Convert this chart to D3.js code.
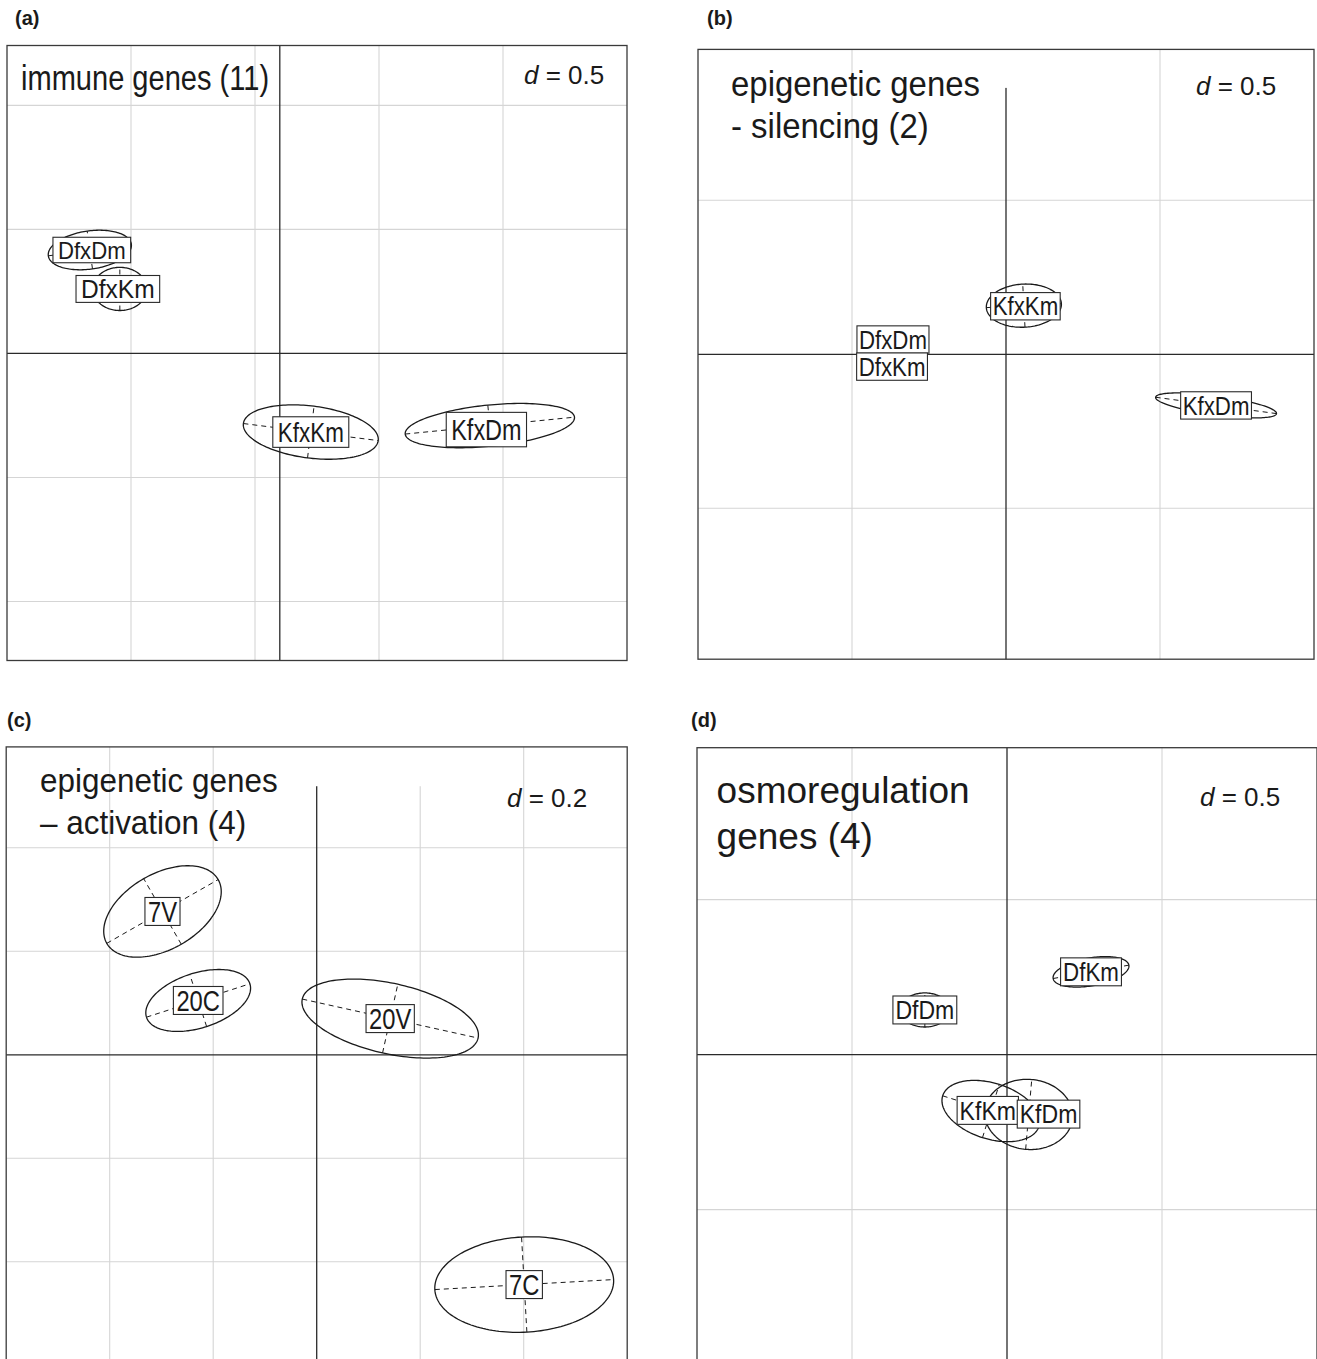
<!DOCTYPE html>
<html>
<head>
<meta charset="utf-8">
<script src="https://cdn.jsdelivr.net/npm/d3@7"></script>
<style>
  body { margin: 0; background: #fff; }
  svg { display: block; }
</style>
</head>
<body>
<svg id="fig" width="1317" height="1359"></svg>
<script>
// ---------- (a) immune genes ----------
const immuneTitle = ["immune genes (11)"];
const immuneD = "0.5";
const immuneGroups = ["DfxDm", "DfxKm", "KfxKm", "KfxDm"];
const immuneX = [-0.766, -0.645, 0.125, 0.847];
const immuneY = [0.417, 0.260, -0.317, -0.291];
const immuneMajor = [0.169, 0.109, 0.274, 0.343];
const immuneMinor = [0.077, 0.087, 0.105, 0.083];
const immuneAngle = [8, 0, -7.2, 5.7];
const immuneLabelX = [-0.758, -0.653, 0.125, 0.833];
const immuneLabelY = [0.417, 0.260, -0.317, -0.307];
const immuneGridX = [-0.6, -0.1, 0.4, 0.9];
const immuneGridY = [-1.0, -0.5, 0.5, 1.0];

// ---------- (b) epigenetic genes, silencing ----------
const silencingTitle = ["epigenetic genes", "- silencing (2)"];
const silencingD = "0.5";
const silencingGroups = ["DfxDm", "DfxKm", "KfxKm", "KfxDm"];
const silencingX = [-0.367, -0.370, 0.058, 0.682];
const silencingY = [0.048, -0.040, 0.158, -0.166];
const silencingMajor = [0.030, 0.030, 0.122, 0.198];
const silencingMinor = [0.015, 0.015, 0.070, 0.031];
const silencingAngle = [0, 0, 3, -7.7];
const silencingLabelX = [-0.367, -0.370, 0.063, 0.682];
const silencingLabelY = [0.048, -0.040, 0.156, -0.166];
const silencingGridX = [-0.5, 0.5];
const silencingGridY = [-0.5, 0.5];

// ---------- (c) epigenetic genes, activation ----------
const activationTitle = ["epigenetic genes", "\u2013 activation (4)"];
const activationD = "0.2";
const activationGroups = ["7V", "20C", "20V", "7C"];
const activationX = [-0.298, -0.229, 0.142, 0.401];
const activationY = [0.277, 0.105, 0.070, -0.444];
const activationMajor = [0.124, 0.105, 0.174, 0.173];
const activationMinor = [0.073, 0.053, 0.068, 0.092];
const activationAngle = [29.8, 17.9, -12.5, 3.2];
const activationLabelX = [-0.298, -0.229, 0.142, 0.401];
const activationLabelY = [0.277, 0.105, 0.070, -0.444];
const activationGridX = [-0.4, -0.2, 0.2, 0.4];
const activationGridY = [-0.4, -0.2, 0.2, 0.4];

// ---------- (d) osmoregulation genes ----------
const osmoTitle = ["osmoregulation", "genes (4)"];
const osmoD = "0.5";
const osmoGroups = ["DfDm", "DfKm", "KfKm", "KfDm"];
const osmoX = [-0.265, 0.271, -0.052, 0.070];
const osmoY = [0.144, 0.267, -0.182, -0.193];
const osmoMajor = [0.080, 0.124, 0.163, 0.142];
const osmoMinor = [0.055, 0.045, 0.090, 0.113];
const osmoAngle = [0, 10, -17.5, -5];
const osmoLabelX = [-0.265, 0.271, -0.062, 0.134];
const osmoLabelY = [0.144, 0.267, -0.180, -0.192];
const osmoGridX = [-0.5, 0.5];
const osmoGridY = [-0.5, 0.5];

// relative label font size and width within each panel
const immuneLabelSize = [0.96, 1.0, 1.1, 1.2];
const immuneLabelWidth = [1.1, 1.17, 0.97, 0.93];
const silencingLabelSize = [1, 1, 1, 1];
const silencingLabelWidth = [1, 1, 1, 1];
const activationLabelSize = [1, 1, 1, 1];
const activationLabelWidth = [1, 1, 1, 1];
const osmoLabelSize = [1, 1, 1, 1];
const osmoLabelWidth = [1, 0.97, 1, 1];

const FONT = "'Liberation Sans', Arial, Helvetica, sans-serif";

function zipGroups(names, xs, ys, as, bs, angs, lx, ly, sz, wd) {
  return names.map((n, i) => ({
    name: n, cx: xs[i], cy: ys[i], a: as[i], b: bs[i], ang: angs[i],
    lx: lx[i], ly: ly[i], k: sz[i], kw: wd[i]
  }));
}

const panels = [
  {
    tag: "(a)", tagPos: [15, 25],
    frame: [7, 45.5, 627, 660.5], xlim: [-1.10, 1.40], ylim: [-1.238, 1.2415],
    gridX: immuneGridX, gridY: immuneGridY,
    groups: zipGroups(immuneGroups, immuneX, immuneY, immuneMajor, immuneMinor,
                      immuneAngle, immuneLabelX, immuneLabelY,
                      immuneLabelSize, immuneLabelWidth),
    title: immuneTitle, titleStyle: { x: 21, y: [90], size: 35, sx: 0.83 },
    d: immuneD, dPos: [524, 84],
    label: { size: 25, sx: 0.84, padX: 5, padY: 4.5 },
    mask: null
  },
  {
    tag: "(b)", tagPos: [707, 25],
    frame: [698, 49.4, 1314, 659.2], xlim: [-1, 1], ylim: [-0.99, 0.99],
    gridX: silencingGridX, gridY: silencingGridY,
    groups: zipGroups(silencingGroups, silencingX, silencingY, silencingMajor,
                      silencingMinor, silencingAngle, silencingLabelX, silencingLabelY,
                      silencingLabelSize, silencingLabelWidth),
    title: silencingTitle, titleStyle: { x: 731, y: [96, 138], size: 34.5, sx: 0.955 },
    d: silencingD, dPos: [1196, 95.4],
    label: { size: 25.6, sx: 0.87, padX: 2, padY: 4.5 },
    mask: [-0.214, 0.273, 0.865, 0.99]
  },
  {
    tag: "(c)", tagPos: [7, 727],
    frame: [6.2, 746.9, 627.2, 1365.3], xlim: [-0.6, 0.6], ylim: [-0.6, 0.595],
    gridX: activationGridX, gridY: activationGridY,
    groups: zipGroups(activationGroups, activationX, activationY, activationMajor,
                      activationMinor, activationAngle, activationLabelX, activationLabelY,
                      activationLabelSize, activationLabelWidth),
    title: activationTitle, titleStyle: { x: 40, y: [791.7, 833.7], size: 34, sx: 0.925 },
    d: activationD, dPos: [507, 806.5],
    label: { size: 29, sx: 0.82, padX: 3, padY: 3.6 },
    mask: [-0.148, 0.296, 0.519, 0.595]
  },
  {
    tag: "(d)", tagPos: [691, 727],
    frame: [697, 747.7, 1317, 1364.6], xlim: [-1, 1], ylim: [-1, 0.99],
    gridX: osmoGridX, gridY: osmoGridY,
    groups: zipGroups(osmoGroups, osmoX, osmoY, osmoMajor, osmoMinor,
                      osmoAngle, osmoLabelX, osmoLabelY, osmoLabelSize, osmoLabelWidth),
    title: osmoTitle, titleStyle: { x: 716.6, y: [803, 849], size: 37, sx: 1 },
    d: osmoD, dPos: [1200, 805.6],
    label: { size: 25.6, sx: 0.9, padX: 2.5, padY: 4.8 },
    mask: null
  }
];

const svg = d3.select("#fig");
svg.append("rect").attr("width", 1317).attr("height", 1359).attr("fill", "#fff");

// Points on an ellipse given in data units (angle counter-clockwise, degrees)
function ellipsePoints(g, n) {
  const th = g.ang * Math.PI / 180;
  const c = Math.cos(th), s = Math.sin(th);
  return d3.range(n).map(i => {
    const t = 2 * Math.PI * i / n;
    const u = g.a * Math.cos(t), v = g.b * Math.sin(t);
    return [g.cx + u * c - v * s, g.cy + u * s + v * c];
  });
}

function drawPanel(p) {
  const x = d3.scaleLinear().domain(p.xlim).range([p.frame[0], p.frame[2]]);
  const y = d3.scaleLinear().domain(p.ylim).range([p.frame[3], p.frame[1]]);
  const g = svg.append("g");

  // light grid
  g.selectAll("line.gx").data(p.gridX).join("line").attr("class", "gx")
    .attr("x1", d => x(d)).attr("x2", d => x(d))
    .attr("y1", y(p.ylim[1])).attr("y2", y(p.ylim[0]))
    .attr("stroke", "#d5d5d5").attr("stroke-width", 1.1);
  g.selectAll("line.gy").data(p.gridY).join("line").attr("class", "gy")
    .attr("y1", d => y(d)).attr("y2", d => y(d))
    .attr("x1", x(p.xlim[0])).attr("x2", x(p.xlim[1]))
    .attr("stroke", "#d5d5d5").attr("stroke-width", 1.1);

  // axes through the origin
  g.append("line")
    .attr("x1", x(0)).attr("x2", x(0)).attr("y1", y(p.ylim[1])).attr("y2", y(p.ylim[0]))
    .attr("stroke", "#2a2a2a").attr("stroke-width", 1.3);
  g.append("line")
    .attr("y1", y(0)).attr("y2", y(0)).attr("x1", x(p.xlim[0])).attr("x2", x(p.xlim[1]))
    .attr("stroke", "#2a2a2a").attr("stroke-width", 1.3);

  // blank strip masking the top of the vertical axis
  if (p.mask) {
    g.append("rect")
      .attr("x", x(p.mask[0])).attr("width", x(p.mask[1]) - x(p.mask[0]))
      .attr("y", y(p.mask[3])).attr("height", y(p.mask[2]) - y(p.mask[3]))
      .attr("fill", "#fff");
  }

  // class ellipses with dashed axes
  const line = d3.line().x(d => x(d[0])).y(d => y(d[1])).curve(d3.curveLinearClosed);
  const eg = g.append("g");
  p.groups.forEach(cl => {
    const th = cl.ang * Math.PI / 180;
    const c = Math.cos(th), s = Math.sin(th);
    const axes = [
      [[cl.cx - cl.a * c, cl.cy - cl.a * s], [cl.cx + cl.a * c, cl.cy + cl.a * s]],
      [[cl.cx + cl.b * s, cl.cy - cl.b * c], [cl.cx - cl.b * s, cl.cy + cl.b * c]]
    ];
    axes.forEach(ax => {
      eg.append("line")
        .attr("x1", x(ax[0][0])).attr("y1", y(ax[0][1]))
        .attr("x2", x(ax[1][0])).attr("y2", y(ax[1][1]))
        .attr("stroke", "#1a1a1a").attr("stroke-width", 1)
        .attr("stroke-dasharray", "5,4");
    });
    eg.append("path").attr("d", line(ellipsePoints(cl, 160)))
      .attr("fill", "none").attr("stroke", "#1a1a1a").attr("stroke-width", 1.3);
  });

  // boxed class labels
  const L = p.label;
  p.groups.forEach(cl => {
    const fs = L.size * cl.k;
    const sx = L.sx * cl.kw;
    const cap = 0.716 * fs;
    const lg = g.append("g");
    const rect = lg.append("rect");
    const t = lg.append("text")
      .attr("font-family", FONT).attr("font-size", fs).attr("fill", "#1a1a1a")
      .attr("text-anchor", "middle")
      .attr("transform", `translate(${x(cl.lx)},${y(cl.ly) + cap / 2}) scale(${sx},1)`)
      .text(cl.name);
    const w = t.node().getComputedTextLength() * sx;
    const py = L.padY * cl.k * cl.k;
    rect.attr("x", x(cl.lx) - w / 2 - L.padX).attr("width", w + 2 * L.padX)
      .attr("y", y(cl.ly) - cap / 2 - py).attr("height", cap + 2 * py)
      .attr("fill", "#fff").attr("stroke", "#2a2a2a").attr("stroke-width", 1.1);
  });

  // title
  const T = p.titleStyle;
  p.title.forEach((s, i) => {
    g.append("text")
      .attr("font-family", FONT).attr("font-size", T.size).attr("fill", "#1a1a1a")
      .attr("transform", `translate(${T.x},${T.y[i]}) scale(${T.sx},1)`)
      .text(s);
  });

  // scale of the grid mesh
  const dt = g.append("text")
    .attr("font-family", FONT).attr("font-size", 26).attr("fill", "#1a1a1a")
    .attr("x", p.dPos[0]).attr("y", p.dPos[1]);
  dt.append("tspan").attr("font-style", "italic").text("d");
  dt.append("tspan").text(" = " + p.d);

  // frame
  g.append("rect")
    .attr("x", p.frame[0]).attr("y", p.frame[1])
    .attr("width", p.frame[2] - p.frame[0]).attr("height", p.frame[3] - p.frame[1])
    .attr("fill", "none").attr("stroke", "#3a3a3a").attr("stroke-width", 1.3);

  // panel tag
  svg.append("text")
    .attr("font-family", FONT).attr("font-size", 20).attr("font-weight", "bold")
    .attr("fill", "#1a1a1a").attr("x", p.tagPos[0]).attr("y", p.tagPos[1])
    .text(p.tag);
}

panels.forEach(drawPanel);
</script>
</body>
</html>
